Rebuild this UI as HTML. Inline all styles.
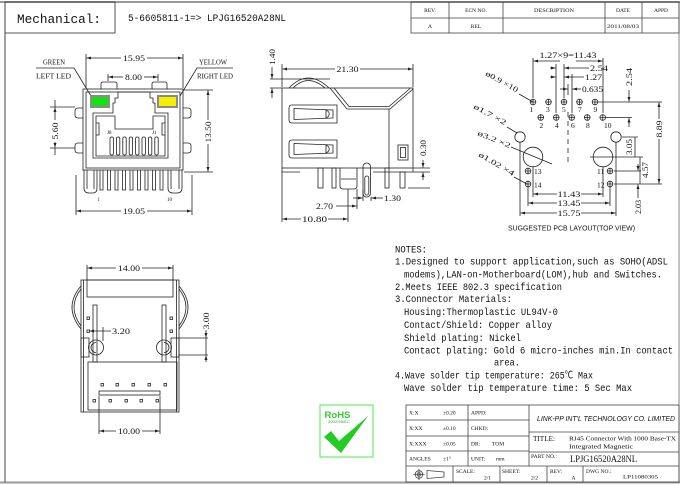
<!DOCTYPE html>
<html><head><meta charset="utf-8"><style>
html,body{margin:0;padding:0;background:#fff;width:680px;height:485px;overflow:hidden}
svg{display:block}
text{fill:#111;font-family:"Liberation Serif","Noto Serif CJK SC",serif}
.m{font-family:"Liberation Mono","Noto Sans CJK SC",monospace}
.s{font-family:"Liberation Sans","Noto Sans CJK SC",sans-serif}
</style></head><body>
<svg width="680" height="485" viewBox="0 0 680 485" xmlns="http://www.w3.org/2000/svg">
<defs><marker id="a" viewBox="0 0 6 4" refX="6" refY="2" markerWidth="4.5" markerHeight="3" orient="auto" markerUnits="userSpaceOnUse"><path d="M0,0L6,2L0,4z" fill="#222"/></marker></defs>

<!-- FRAME & HEADER -->
<g fill="none">
<line x1="0" y1="2" x2="680" y2="2" stroke="#999" stroke-width="2"/>
<line x1="0" y1="482.5" x2="680" y2="482.5" stroke="#999" stroke-width="2"/>
<line x1="5" y1="2" x2="5" y2="482" stroke="#444" stroke-width="1"/>
<line x1="679" y1="2" x2="679" y2="482" stroke="#666" stroke-width="0.8"/>
<rect x="5" y="2" width="110" height="31" stroke="#444" stroke-width="0.9"/>
<rect x="411" y="2" width="268" height="31" stroke="#444" stroke-width="0.8"/>
<path d="M411,18H679M449,2V33M503,2V33M605,2V33M642,2V33" stroke="#444" stroke-width="0.8"/>
</g>
<text class="m" x="17" y="23" font-size="13" textLength="84" lengthAdjust="spacingAndGlyphs">Mechanical:</text>
<text class="m" x="128" y="21" font-size="10.5" textLength="158" lengthAdjust="spacingAndGlyphs">5-6605811-1=&gt; LPJG16520A28NL</text>
<g font-size="5.5" text-anchor="middle">
<text x="430" y="12">REV.</text>
<text x="476" y="12">ECN NO.</text>
<text x="554" y="12" textLength="40" lengthAdjust="spacingAndGlyphs">DESCRIPTION</text>
<text x="623" y="12">DATE</text>
<text x="661" y="12">APPD</text>
<text x="430" y="28">A</text>
<text x="476" y="28">REL</text>
<text x="623" y="28" textLength="32" lengthAdjust="spacingAndGlyphs">2011/08/03</text>
</g>

<!-- FRONT VIEW -->
<g fill="none" stroke="#222" stroke-width="0.8">
<path d="M86,54V88M183,54V88"/>
<line x1="121" y1="58" x2="86.5" y2="58" marker-end="url(#a)"/>
<line x1="147" y1="58" x2="182.5" y2="58" marker-end="url(#a)"/>
<path d="M108,74V81M158,74V81"/>
<line x1="123" y1="77" x2="108.5" y2="77" marker-end="url(#a)"/>
<line x1="144" y1="77" x2="157.5" y2="77" marker-end="url(#a)"/>
<path d="M36,68H74L91,96"/>
<path d="M233,68H197L180,96"/>
<path d="M101,89V84Q101,82 103,82H115Q117,82 117,84V89"/>
<path d="M152,89V84Q152,82 154,82H165Q167,82 167,84V89"/>
<rect x="83" y="89" width="100" height="81"/>
<rect x="86" y="92" width="94" height="76"/>
<path d="M83,108H78Q75,108 75,111V115Q75,118 78,118H83"/>
<path d="M83,143H78Q75,143 75,146V150Q75,153 78,153H83"/>
<path d="M183,108H188Q191,108 191,111V115Q191,118 188,118H183"/>
<path d="M183,143H188Q191,143 191,146V150Q191,153 188,153H183"/>
<path d="M93,113H113V103H115V98H118V92H150V98H153V103H155V113H168V158H93Z"/>
<path d="M96,116H115V129H153V116H165V156H96Z"/>
<path d="M96,123H99V135H96M165,123H162V135H165"/>
<g>
<rect x="110" y="137" width="3.4" height="18" rx="1.5"/>
<rect x="116.4" y="137" width="3.4" height="18" rx="1.5"/>
<rect x="122.8" y="137" width="3.4" height="18" rx="1.5"/>
<rect x="129.2" y="137" width="3.4" height="18" rx="1.5"/>
<rect x="135.6" y="137" width="3.4" height="18" rx="1.5"/>
<rect x="142" y="137" width="3.4" height="18" rx="1.5"/>
<rect x="148.4" y="137" width="3.4" height="18" rx="1.5"/>
<rect x="154.8" y="137" width="3.4" height="18" rx="1.5"/>
</g>
<path d="M84,170V188Q84,193 89,193H93Q97,193 97,188V170"/>
<path d="M87,170V189M94,170V189"/>
<path d="M168,170V188Q168,193 173,193H177Q182,193 182,188V170"/>
<path d="M171,170V189M179,170V189"/>
<path d="M100,170V190H103V170M107.5,170V190H110.5V170M115,170V190H118V170M122.5,170V190H125.5V170M130,170V190H133V170M137.5,170V190H140.5V170M145,170V190H148V170M152.5,170V190H155.5V170M160,170V190H163V170"/>
<path d="M50,107H75M50,148H75"/>
<line x1="55" y1="120" x2="55" y2="107.5" marker-end="url(#a)"/>
<line x1="55" y1="142" x2="55" y2="147.5" marker-end="url(#a)"/>
<path d="M55,100V107M55,148V155"/>
<path d="M184,90H213M184,172H213"/>
<line x1="208" y1="120" x2="208" y2="90.5" marker-end="url(#a)"/>
<line x1="208" y1="144" x2="208" y2="171.5" marker-end="url(#a)"/>
<path d="M76,175V215M192,175V215"/>
<line x1="121" y1="211" x2="76.5" y2="211" marker-end="url(#a)"/>
<line x1="147" y1="211" x2="191.5" y2="211" marker-end="url(#a)"/>
</g>
<rect x="90" y="95" width="20" height="13" fill="#8a8a8a"/>
<rect x="92" y="97" width="16" height="9" fill="#14e014"/>
<rect x="157" y="95" width="21" height="13" fill="#8a8a8a"/>
<rect x="159" y="97" width="17" height="9" fill="#f4f000"/>
<g font-size="8.5" text-anchor="middle">
<text x="134" y="61" textLength="22" lengthAdjust="spacingAndGlyphs">15.95</text>
<text x="133.5" y="80" textLength="17" lengthAdjust="spacingAndGlyphs">8.00</text>
<text x="134" y="214" textLength="22" lengthAdjust="spacingAndGlyphs">19.05</text>
<text transform="translate(58,131) rotate(-90)" textLength="17" lengthAdjust="spacingAndGlyphs">5.60</text>
<text transform="translate(211,132) rotate(-90)" textLength="21" lengthAdjust="spacingAndGlyphs">13.50</text>
</g>
<g font-size="7">
<text x="43" y="64.5" textLength="22" lengthAdjust="spacingAndGlyphs">GREEN</text>
<text x="36" y="78.5" textLength="35" lengthAdjust="spacingAndGlyphs">LEFT LED</text>
<text x="199" y="64.5" textLength="28" lengthAdjust="spacingAndGlyphs">YELLOW</text>
<text x="197" y="78.5" textLength="36" lengthAdjust="spacingAndGlyphs">RIGHT LED</text>
</g>
<g font-size="5">
<text x="107" y="134">J8</text><text x="152" y="134">J1</text>
<text x="97.5" y="201">1</text><text x="167" y="201">10</text>
</g>

<!-- SIDE VIEW -->
<g fill="none" stroke="#222" stroke-width="0.8">
<path d="M282,64V87M413,64V87"/>
<line x1="335" y1="69" x2="282.5" y2="69" marker-end="url(#a)"/>
<line x1="360" y1="69" x2="412.5" y2="69" marker-end="url(#a)"/>
<path d="M270,79H330M270,88H282"/>
<line x1="272" y1="67" x2="272" y2="78.5" marker-end="url(#a)"/>
<line x1="272" y1="98" x2="272" y2="88.5" marker-end="url(#a)"/>
<rect x="282" y="88" width="131" height="80"/>
<path d="M282,168V172H300M373,172H413V168"/>
<polyline points="330,88 347,109 390,109 413,89"/>
<polyline points="334,88 349,106.5 389,106.5 410,88.5"/>
<path d="M289,88Q308,68 329,88"/>
<path d="M293,88Q308,73 325,88"/>
<line x1="389" y1="109" x2="389" y2="168"/>
<path d="M292,105H337V123H292Q289,123 289,120V108Q289,105 292,105Z"/>
<path d="M294,108.5L333,110V118L294,119.5Z"/>
<path d="M326,110.5A3.2,3.5 0 0 1 326,117.5M326,110V118"/>
<path d="M292,140H337V158H292Q289,158 289,155V143Q289,140 292,140Z"/>
<path d="M294,143.5L333,145V153L294,154.5Z"/>
<path d="M326,145.5A3.2,3.5 0 0 1 326,152.5M326,145V153"/>
<rect x="398" y="145" width="10" height="15"/>
<rect x="400.5" y="147.5" width="5" height="10"/>
<rect x="318" y="168" width="5" height="20"/>
<rect x="332" y="168" width="4" height="20"/>
<rect x="385" y="168" width="4" height="20"/>
<rect x="400" y="172" width="5" height="16"/>
<path d="M340,168V186Q340,189 343,189H354Q357,189 357,186V168M341,179H356"/>
<rect x="363" y="163" width="7.5" height="34" rx="3.7"/>
<rect x="364.8" y="176" width="4" height="19" rx="2"/>
<path d="M413,168H430M413,172H430M408,188H430"/>
<line x1="423" y1="160" x2="423" y2="167.5" marker-end="url(#a)"/>
<line x1="423" y1="180" x2="423" y2="172.5" marker-end="url(#a)"/>
<path d="M363,189V201M371,197V201"/>
<line x1="353" y1="198" x2="362.5" y2="198" marker-end="url(#a)"/>
<line x1="383" y1="198" x2="371.5" y2="198" marker-end="url(#a)"/>
<path d="M348,189V222M357,189V209M282,172V222"/>
<line x1="336" y1="206" x2="356.5" y2="206" marker-end="url(#a)"/>
<line x1="301" y1="219" x2="282.5" y2="219" marker-end="url(#a)"/>
<line x1="328" y1="219" x2="347.5" y2="219" marker-end="url(#a)"/>
</g>
<g font-size="8.5">
<text x="347.5" y="72" text-anchor="middle" textLength="22" lengthAdjust="spacingAndGlyphs">21.30</text>
<text transform="translate(275,57) rotate(-90)" text-anchor="middle" textLength="16" lengthAdjust="spacingAndGlyphs">1.40</text>
<text transform="translate(426,148) rotate(-90)" text-anchor="middle" textLength="16" lengthAdjust="spacingAndGlyphs">0.30</text>
<text x="384" y="201" textLength="17" lengthAdjust="spacingAndGlyphs">1.30</text>
<text x="316" y="209" textLength="17" lengthAdjust="spacingAndGlyphs">2.70</text>
<text x="302" y="222" textLength="25" lengthAdjust="spacingAndGlyphs">10.80</text>
</g>

<!-- PCB LAYOUT -->
<g fill="none" stroke="#222" stroke-width="0.8">
<path d="M533,58V98M603,58V113"/>
<line x1="560" y1="61" x2="533.5" y2="61" marker-end="url(#a)"/>
<line x1="576" y1="61" x2="602.5" y2="61" marker-end="url(#a)"/>
<path d="M556,64V113M564,64V98M568,84V95M572,74V113"/>
<line x1="589" y1="68" x2="564.5" y2="68" marker-end="url(#a)"/>
<line x1="550" y1="68" x2="555.5" y2="68" marker-end="url(#a)"/>
<line x1="584" y1="77" x2="564.5" y2="77" marker-end="url(#a)"/>
<line x1="550" y1="77" x2="555.5" y2="77" marker-end="url(#a)"/>
<line x1="581" y1="89" x2="572.5" y2="89" marker-end="url(#a)"/>
<line x1="560" y1="89" x2="567.5" y2="89" marker-end="url(#a)"/>
<g>
<circle cx="533" cy="102" r="2.8"/><circle cx="548.5" cy="102" r="2.8"/><circle cx="564" cy="102" r="2.8"/><circle cx="579.5" cy="102" r="2.8"/><circle cx="595" cy="102" r="2.8"/>
<circle cx="540.75" cy="117.5" r="2.8"/><circle cx="556.25" cy="117.5" r="2.8"/><circle cx="571.75" cy="117.5" r="2.8"/><circle cx="587.25" cy="117.5" r="2.8"/><circle cx="602.75" cy="117.5" r="2.8"/>
<path d="M530,102h6M545.5,102h6M561,102h6M576.5,102h6M592,102h6M533,99v6M548.5,99v6M564,99v6M579.5,99v6M595,99v6"/>
<path d="M537.75,117.5h6M553.25,117.5h6M568.75,117.5h6M584.25,117.5h6M599.75,117.5h6M540.75,114.5v6M556.25,114.5v6M571.75,114.5v6M587.25,114.5v6M602.75,114.5v6"/>
</g>
<circle cx="520" cy="137" r="5.2"/><circle cx="616" cy="137" r="5.2"/>
<circle cx="533" cy="157" r="9.8"/><circle cx="603" cy="157" r="9.8"/>
<circle cx="528" cy="171" r="2.8"/><circle cx="528" cy="184" r="2.8"/><circle cx="610" cy="171" r="2.8"/><circle cx="610" cy="184" r="2.8"/>
<path d="M525,171h6M528,168v6M525,184h6M528,181v6M607,171h6M610,168v6M607,184h6M610,181v6"/>
<line x1="568" y1="112" x2="568" y2="165" stroke-dasharray="5,4"/>
<path d="M519,94L533,102"/>
<path d="M507,127L517,133"/>
<path d="M511,147L552,164"/>
<path d="M514,177L527,184"/>
<path d="M598,102H662M606,117.5H632"/>
<line x1="629" y1="90" x2="629" y2="101.5" marker-end="url(#a)"/>
<line x1="629" y1="127" x2="629" y2="118" marker-end="url(#a)"/>
<line x1="659" y1="119" x2="659" y2="102.5" marker-end="url(#a)"/>
<line x1="659" y1="139" x2="659" y2="183.5" marker-end="url(#a)"/>
<path d="M622,137H638M590,157H643"/>
<line x1="635" y1="137.5" x2="635" y2="156.5"/>
<path d="M614,171H641M614,184H662"/>
<line x1="640" y1="157.5" x2="640" y2="183.5"/>
<line x1="638" y1="164" x2="638" y2="170.5" marker-end="url(#a)"/>
<line x1="638" y1="198" x2="638" y2="184.5" marker-end="url(#a)"/>
<path d="M533,167V197M603,167V197M528,187V206M610,187V206M520,142V216M616,142V216"/>
<line x1="557" y1="194" x2="533.5" y2="194" marker-end="url(#a)"/>
<line x1="581" y1="194" x2="602.5" y2="194" marker-end="url(#a)"/>
<line x1="557" y1="203" x2="528.5" y2="203" marker-end="url(#a)"/>
<line x1="581" y1="203" x2="609.5" y2="203" marker-end="url(#a)"/>
<line x1="557" y1="213" x2="520.5" y2="213" marker-end="url(#a)"/>
<line x1="581" y1="213" x2="615.5" y2="213" marker-end="url(#a)"/>
</g>
<g font-size="8.5">
<text x="568" y="58" text-anchor="middle" textLength="57" lengthAdjust="spacingAndGlyphs">1.27×9=11.43</text>
<text x="590" y="71" textLength="18" lengthAdjust="spacingAndGlyphs">2.54</text>
<text x="585" y="80" textLength="17" lengthAdjust="spacingAndGlyphs">1.27</text>
<text x="582" y="92" textLength="21" lengthAdjust="spacingAndGlyphs">0.635</text>
<text x="569" y="197" text-anchor="middle" textLength="23" lengthAdjust="spacingAndGlyphs">11.43</text>
<text x="569" y="206" text-anchor="middle" textLength="23" lengthAdjust="spacingAndGlyphs">13.45</text>
<text x="569" y="216" text-anchor="middle" textLength="23" lengthAdjust="spacingAndGlyphs">15.75</text>
<text transform="translate(632,77) rotate(-90)" text-anchor="middle" textLength="18" lengthAdjust="spacingAndGlyphs">2.54</text>
<text transform="translate(662,129) rotate(-90)" text-anchor="middle" textLength="17" lengthAdjust="spacingAndGlyphs">8.89</text>
<text transform="translate(632,147) rotate(-90)" text-anchor="middle" textLength="16" lengthAdjust="spacingAndGlyphs">3.05</text>
<text transform="translate(648,170) rotate(-90)" text-anchor="middle" textLength="16" lengthAdjust="spacingAndGlyphs">4.57</text>
<text transform="translate(641,207) rotate(-90)" text-anchor="middle" textLength="14" lengthAdjust="spacingAndGlyphs">2.03</text>
</g>
<g font-size="7.5">
<text x="529.5" y="112">1</text><text x="546" y="112">3</text><text x="562" y="112">5</text><text x="578" y="112">7</text><text x="593.5" y="112">9</text>
<text x="539.5" y="128">2</text><text x="555" y="128">4</text><text x="571" y="128">6</text><text x="586" y="128">8</text><text x="604" y="128">10</text>
<text x="534" y="174">13</text><text x="534" y="187.5">14</text><text x="597" y="174">11</text><text x="597" y="187.5">12</text>
</g>
<g font-size="7.5">
<text transform="translate(485,75) rotate(29)" textLength="36" lengthAdjust="spacingAndGlyphs">ø0.9 ×10</text>
<text transform="translate(473,108) rotate(28.6)" textLength="36" lengthAdjust="spacingAndGlyphs">ø1.7 ×2</text>
<text transform="translate(477,135) rotate(22)" textLength="35" lengthAdjust="spacingAndGlyphs">ø3.2 ×2</text>
<text transform="translate(478,156) rotate(30)" textLength="40" lengthAdjust="spacingAndGlyphs">ø1.02 ×4</text>
</g>
<text class="s" x="508" y="230.5" font-size="7" textLength="127" lengthAdjust="spacingAndGlyphs">SUGGESTED PCB LAYOUT(TOP VIEW)</text>

<!-- BOTTOM VIEW -->
<g fill="none" stroke="#222" stroke-width="0.8">
<path d="M87,265V280M173,265V280"/>
<line x1="116" y1="268" x2="87.5" y2="268" marker-end="url(#a)"/>
<line x1="142" y1="268" x2="172.5" y2="268" marker-end="url(#a)"/>
<rect x="81" y="280" width="98" height="132"/>
<path d="M83.5,280V412M176.5,280V412"/>
<rect x="87" y="280" width="86" height="17"/>
<path d="M81,286Q63,307 81,329"/>
<path d="M81,289Q67,307 81,326"/>
<path d="M179,286Q197,307 179,329"/>
<path d="M179,289Q193,307 179,326"/>
<rect x="93" y="305" width="4" height="57"/>
<rect x="162" y="305" width="4" height="57"/>
<rect x="87" y="317" width="2.5" height="2.5"/>
<rect x="87" y="330" width="2.5" height="2.5"/>
<rect x="170" y="317" width="2.5" height="2.5"/>
<rect x="170" y="330" width="2.5" height="2.5"/>
<rect x="81" y="338" width="8" height="19"/>
<rect x="171" y="338" width="8" height="19"/>
<circle cx="96" cy="347.5" r="7.5"/>
<path d="M96,342.5A5,5 0 0 0 96,352.5"/>
<circle cx="164" cy="347.5" r="7.5"/>
<path d="M164,342.5A5,5 0 0 1 164,352.5"/>
<rect x="88" y="362" width="89" height="48"/>
<rect x="101" y="383.5" width="2.5" height="2.5"/><rect x="116" y="383.5" width="2.5" height="2.5"/><rect x="132" y="383.5" width="2.5" height="2.5"/><rect x="148" y="383.5" width="2.5" height="2.5"/><rect x="164" y="383.5" width="2.5" height="2.5"/>
<rect x="93" y="399.5" width="2.5" height="2.5"/><rect x="109" y="399.5" width="2.5" height="2.5"/><rect x="125" y="399.5" width="2.5" height="2.5"/><rect x="140" y="399.5" width="2.5" height="2.5"/><rect x="156" y="399.5" width="2.5" height="2.5"/>
<rect x="99" y="391" width="61" height="4"/>
<line x1="111" y1="331" x2="89.5" y2="331" marker-end="url(#a)"/>
<line x1="103" y1="327" x2="103" y2="341"/>
<path d="M179,338H208M179,355H208"/>
<line x1="206" y1="330" x2="206" y2="337.5" marker-end="url(#a)"/>
<line x1="206" y1="362" x2="206" y2="355.5" marker-end="url(#a)"/>
<line x1="206" y1="338" x2="206" y2="355"/>
<path d="M99,396V434M160,396V434"/>
<line x1="116" y1="431" x2="99.5" y2="431" marker-end="url(#a)"/>
<line x1="142" y1="431" x2="159.5" y2="431" marker-end="url(#a)"/>
</g>
<g font-size="8.5">
<text x="129" y="271" text-anchor="middle" textLength="22" lengthAdjust="spacingAndGlyphs">14.00</text>
<text x="112" y="334" textLength="18" lengthAdjust="spacingAndGlyphs">3.20</text>
<text transform="translate(209,321) rotate(-90)" text-anchor="middle" textLength="17" lengthAdjust="spacingAndGlyphs">3.00</text>
<text x="129" y="434" text-anchor="middle" textLength="22" lengthAdjust="spacingAndGlyphs">10.00</text>
</g>

<!-- NOTES -->
<g font-size="10.3">
<text class="m" x="395" y="252.5" font-size="10.3" textLength="32" lengthAdjust="spacingAndGlyphs">NOTES:</text>
<text class="m" x="395" y="264.5" font-size="10.3" textLength="273" lengthAdjust="spacingAndGlyphs">1.Designed to support application,such as SOHO(ADSL</text>
<text class="m" x="404" y="277.5" font-size="10.3" textLength="258" lengthAdjust="spacingAndGlyphs">modems),LAN-on-Motherboard(LOM),hub and Switches.</text>
<text class="m" x="395" y="290" font-size="10.3" textLength="167" lengthAdjust="spacingAndGlyphs">2.Meets IEEE 802.3 specification</text>
<text class="m" x="395" y="302" font-size="10.3" textLength="117" lengthAdjust="spacingAndGlyphs">3.Connector Materials:</text>
<text class="m" x="404" y="315" font-size="10.3" textLength="154" lengthAdjust="spacingAndGlyphs">Housing:Thermoplastic UL94V-0</text>
<text class="m" x="404" y="328" font-size="10.3" textLength="148" lengthAdjust="spacingAndGlyphs">Contact/Shield: Copper alloy</text>
<text class="m" x="404" y="341" font-size="10.3" textLength="117" lengthAdjust="spacingAndGlyphs">Shield plating: Nickel</text>
<text class="m" x="404" y="353.5" font-size="10.3" textLength="269" lengthAdjust="spacingAndGlyphs">Contact plating: Gold 6 micro-inches min.In contact</text>
<text class="m" x="494" y="365.5" font-size="10.3" textLength="26" lengthAdjust="spacingAndGlyphs">area.</text>
<text class="m" x="395" y="378.5" font-size="10.3" textLength="198" lengthAdjust="spacingAndGlyphs">4.Wave solder tip temperature: 265℃ Max</text>
<text class="m" x="404" y="391" font-size="10.3" textLength="228" lengthAdjust="spacingAndGlyphs">Wave solder tip temperature time: 5 Sec Max</text>
</g>

<!-- ROHS -->
<rect x="320" y="405" width="53" height="52" fill="none" stroke="#77ee77" stroke-width="1.3"/>
<text class="s" x="324.5" y="418" font-size="9.5" font-weight="bold" style="fill:#33cc33" textLength="26" lengthAdjust="spacingAndGlyphs">RoHS</text>
<text class="s" x="328" y="423" font-size="3.6" style="fill:#33aa33" textLength="22" lengthAdjust="spacingAndGlyphs">2002/95/EC</text>
<polygon points="324,437 331,431 339,441 368,416 341,453" fill="#22cc22"/>

<!-- TITLE BLOCK -->
<g fill="none" stroke="#444" stroke-width="0.8">
<rect x="406" y="405" width="273" height="77"/>
<path d="M406,420H529M406,436H529M406,451H529M406,466H679M529,432H679M529,452H679"/>
<path d="M468,405V466M529,405V466M453,466V482M500,466V482M547,466V482M583,466V482"/>
<circle cx="419" cy="474.5" r="3.8"/>
<circle cx="419" cy="474.5" r="1.8"/>
<path d="M413.5,474.5H424.5M419,469V480"/>
<path d="M427,470.5L444,472V477L427,478.5Z"/>
</g>
<g font-size="5.5">
<text x="409" y="414.5">X:X</text><text x="443" y="414.5">±0.20</text>
<text x="409" y="430">X:XX</text><text x="443" y="430">±0.10</text>
<text x="409" y="445.5">X:XXX</text><text x="443" y="445.5">±0.05</text>
<text x="409" y="460.5">ANGLES</text><text x="443" y="460.5">±1°</text>
<text x="471" y="414.5">APPD:</text>
<text x="471" y="430">CHKD:</text>
<text x="471" y="445.5">DR:</text><text x="492" y="445.5">TOM</text>
<text x="471" y="460.5">UNIT:</text><text x="496" y="460.5">mm</text>
<text x="456" y="473">SCALE:</text><text x="484" y="479.5">2/1</text>
<text x="502" y="473">SHEET:</text><text x="531" y="479.5">2/2</text>
<text x="550" y="473">REV:</text><text x="571.5" y="479.5">A</text>
<text x="586" y="473">DWG NO.:</text>
<text x="623" y="478.5" textLength="35" lengthAdjust="spacingAndGlyphs">LP11080305</text>
<text x="531" y="458" textLength="26" lengthAdjust="spacingAndGlyphs">PART NO.:</text>
</g>
<text class="s" x="537" y="421" font-size="7" font-style="italic" textLength="138" lengthAdjust="spacingAndGlyphs">LINK-PP INT'L TECHNOLOGY CO. LIMITED</text>
<text x="533" y="441" font-size="7.5" textLength="22" lengthAdjust="spacingAndGlyphs">TITLE:</text>
<text x="569" y="440.5" font-size="6" textLength="107" lengthAdjust="spacingAndGlyphs">RJ45 Connector With 1000 Base-TX</text>
<text x="569" y="448.5" font-size="6" textLength="64" lengthAdjust="spacingAndGlyphs">Integrated Magnetic</text>
<text x="570" y="462" font-size="9.5" textLength="67" lengthAdjust="spacingAndGlyphs">LPJG16520A28NL</text>
</svg>
</body></html>
